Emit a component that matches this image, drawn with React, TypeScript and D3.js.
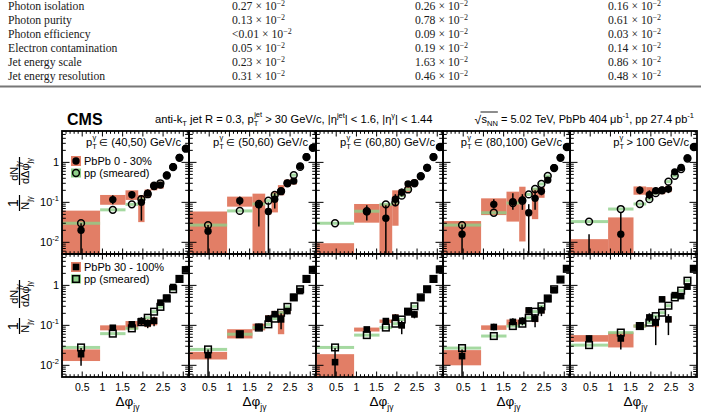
import React, { useEffect, useRef } from 'react';
import * as d3 from 'd3';

type Range = number[] | null;

// Δφ bin edges, in units of π
const binEdgesPi = [0, 0.3, 0.5, 0.6, 0.65, 0.7, 0.75, 0.8, 0.85, 0.9, 0.95, 1.0];

const ptRelations = ['∈', '∈', '∈', '∈', '>'];
const ptRanges = ['(40,50) GeV/c', '(50,60) GeV/c', '(60,80) GeV/c', '(80,100) GeV/c', '100 GeV/c'];

// PbPb 0-30%
const pbCentral = [
    [0.020, 0.117, 0.155, 0.10, 0.17, 0.25, 0.27, 0.48, 0.78, 1.33, 2.24],
    [0.019, 0.11, 0.087, 0.059, 0.12, 0.19, 0.30, 0.34, 0.81, 1.39, 2.33],
    [0.003, 0.058, 0.04, 0.12, 0.18, 0.29, 0.31, 0.45, 0.75, 1.39, 2.46],
    [0.016, 0.089, 0.104, 0.115, 0.055, 0.126, 0.19, 0.36, 0.74, 1.33, 2.46],
    [0.004, 0.016, 0.2, 0.155, 0.196, 0.2, 0.215, 0.58, 0.75, 1.29, 2.46],
];
const pbCentralSys: Range[][] = [
    [[0.001, 0.062], [0.087, 0.153], [0.115, 0.2], [0.032, 0.153], [0.13, 0.21], [0.2, 0.31], [0.22, 0.33], null, null, null, null],
    [[0.001, 0.059], [0.078, 0.139], [0.001, 0.165], [0.05, 0.07], [0.056, 0.18], [0.15, 0.27], [0.25, 0.37], [0.28, 0.4], null, null, null],
    [[0.001, 0.0095], [0.031, 0.091], [0.001, 0.091], [0.026, 0.2], [0.14, 0.21], [0.18, 0.34], [0.25, 0.37], [0.42, 0.48], null, null, null],
    [[0.001, 0.034], [0.048, 0.126], [0.033, 0.185], [0.0105, 0.246], [0.045, 0.065], [0.038, 0.224], [0.13, 0.24], [0.32, 0.42], null, null, null],
    [[0.001, 0.012], [0.001, 0.042], [0.155, 0.25], [0.13, 0.24], [0.16, 0.23], [0.16, 0.24], [0.18, 0.26], [0.5, 0.65], null, null, null],
];
const pbCentralStat: Range[][] = [
    [[0.001, 0.03], [0.09, 0.15], [0.125, 0.19], [0.035, 0.15], [0.14, 0.21], [0.22, 0.29], [0.23, 0.31], null, null, null, null],
    [[0.001, 0.027], [0.085, 0.14], [0.025, 0.11], [0.001, 0.1], [0.07, 0.17], [0.16, 0.23], [0.26, 0.34], [0.3, 0.38], null, null, null],
    [null, [0.035, 0.085], [0.001, 0.085], [0.08, 0.16], [0.14, 0.22], [0.24, 0.34], [0.26, 0.36], null, null, null, null],
    [[0.001, 0.028], [0.07, 0.12], [0.065, 0.17], [0.065, 0.16], [0.001, 0.09], [0.065, 0.2], [0.15, 0.24], [0.32, 0.4], null, null, null],
    [[0.001, 0.016], [0.001, 0.056], [0.16, 0.25], [0.12, 0.2], [0.16, 0.24], [0.17, 0.24], [0.17, 0.27], [0.5, 0.65], null, null, null],
];
const ppCentral = [
    [0.030, 0.065, 0.089, 0.12, 0.16, 0.26, 0.30, 0.47, 0.76, 1.3, 2.2],
    [0.027, 0.061, 0.091, 0.11, 0.153, 0.19, 0.30, 0.48, 0.77, 1.35, 2.3],
    [0.030, 0.060, 0.089, 0.10, 0.147, 0.21, 0.30, 0.45, 0.73, 1.35, 2.4],
    [0.027, 0.055, 0.096, 0.11, 0.158, 0.216, 0.288, 0.456, 0.72, 1.3, 2.4],
    [0.033, 0.068, 0.091, 0.12, 0.17, 0.2, 0.33, 0.46, 0.68, 1.25, 2.4],
];

// PbPb 30-100%
const pbPeriph = [
    [0.019, 0.087, 0.106, 0.128, 0.112, 0.13, 0.37, 0.49, 0.91, 1.47, 2.5],
    [0.018, 0.06, 0.091, 0.147, 0.19, 0.141, 0.228, 0.51, 0.72, 1.47, 2.5],
    [0.012, 0.079, 0.128, 0.155, 0.1, 0.22, 0.188, 0.49, 0.8, 1.47, 2.6],
    [0.017, 0.091, 0.122, 0.13, 0.237, 0.147, 0.237, 0.46, 0.76, 1.41, 2.66],
    [0.047, 0.047, 0.096, 0.158, 0.117, 0.447, 0.141, 0.57, 0.54, 0.93, 2.66],
];
const pbPeriphSys: Range[][] = [
    [[0.0128, 0.025], [0.075, 0.1], [0.08, 0.128], [0.1, 0.15], [0.09, 0.14], [0.1, 0.16], [0.32, 0.42], null, null, null, null],
    [[0.014, 0.0217], [0.047, 0.08], [0.075, 0.11], [0.12, 0.18], [0.16, 0.23], [0.06, 0.228], [0.2, 0.26], null, null, null, null],
    [[0.001, 0.019], [0.07, 0.088], [0.115, 0.14], [0.13, 0.19], [0.085, 0.12], [0.19, 0.26], [0.16, 0.22], null, null, null, null],
    [[0.01, 0.024], [0.077, 0.1], [0.1, 0.14], [0.11, 0.15], [0.2, 0.27], [0.12, 0.17], [0.2, 0.27], null, null, null, null],
    [[0.039, 0.057], [0.028, 0.067], [0.088, 0.105], [0.14, 0.18], [0.09, 0.14], [0.4, 0.5], [0.12, 0.16], null, null, null, null],
];
const pbPeriphStat: Range[][] = [
    [[0.0097, 0.027], [0.075, 0.1], [0.09, 0.125], [0.1, 0.16], [0.085, 0.14], [0.095, 0.165], [0.32, 0.42], null, null, null, null],
    [[0.001, 0.025], [0.05, 0.072], [0.075, 0.11], [0.12, 0.18], [0.16, 0.23], [0.08, 0.2], [0.19, 0.27], null, null, null, null],
    [[0.001, 0.027], [0.068, 0.09], [0.11, 0.15], [0.13, 0.19], [0.06, 0.13], [0.19, 0.26], [0.15, 0.23], null, null, null, null],
    [[0.004, 0.025], [0.075, 0.11], [0.1, 0.15], [0.1, 0.16], [0.2, 0.28], [0.09, 0.19], [0.17, 0.3], null, null, null, null],
    [[0.04, 0.055], [0.025, 0.06], [0.08, 0.115], [0.12, 0.2], [0.032, 0.17], [0.4, 0.5], [0.057, 0.19], [0.5, 0.65], [0.48, 0.6], null, null],
];
const ppPeriph = [
    [0.028, 0.062, 0.084, 0.12, 0.155, 0.22, 0.29, 0.47, 0.8, 1.45, 2.4],
    [0.025, 0.06, 0.088, 0.106, 0.147, 0.207, 0.29, 0.5, 0.8, 1.45, 2.45],
    [0.028, 0.057, 0.088, 0.11, 0.14, 0.22, 0.30, 0.5, 0.8, 1.45, 2.5],
    [0.027, 0.054, 0.096, 0.11, 0.155, 0.22, 0.3, 0.47, 0.8, 1.4, 2.6],
    [0.032, 0.066, 0.096, 0.117, 0.17, 0.207, 0.31, 0.5, 0.74, 1.31, 2.6],
];

// relative size of the pp (smeared) systematic band
const ppSysRel = 0.09;

// systematic uncertainty table
const tableLabels = ['Photon isolation', 'Photon purity', 'Photon efficiency', 'Electron contamination', 'Jet energy scale', 'Jet energy resolution'];
const tableCol1 = ['0.27', '0.13', '<0.01', '0.05', '0.23', '0.31'];
const tableCol2 = ['0.26', '0.78', '0.09', '0.19', '1.63', '0.46'];
const tableCol3 = ['0.16', '0.61', '0.03', '0.14', '0.86', '0.48'];

const App: React.FC = () => {
    const svgRef = useRef<SVGSVGElement | null>(null);

    useEffect(() => {
        if (!svgRef.current) return;
        const svg = d3.select(svgRef.current);
        svg.selectAll('*').remove();

        const sans = "'Liberation Sans', Arial, sans-serif";
        const serif = "'Liberation Serif', 'Times New Roman', serif";
        const red = '#e27e66';
        const green = '#8fd08a';

        // table on top
        const table = svg.append('g').attr('font-family', serif).attr('font-size', 11.7).attr('fill', '#1a1a1a');
        const colX = [232, 415, 608];
        tableLabels.forEach((lab, i) => {
            const ty = 10 + i * 14;
            table.append('text').attr('x', 8).attr('y', ty).text(lab);
            [tableCol1, tableCol2, tableCol3].forEach((col, j) => {
                const t = table.append('text').attr('x', colX[j]).attr('y', ty);
                t.append('tspan').text(`${col[i]} × 10`);
                t.append('tspan').attr('dy', -4.5).attr('font-size', 8).text('−2');
            });
        });
        svg.append('line').attr('x1', 0).attr('x2', 701).attr('y1', 86.5).attr('y2', 86.5)
            .attr('stroke', '#777').attr('stroke-width', 2);

        const panelW = 127;
        const panelH = 123;
        const left0 = 62;
        const edges = binEdgesPi.map(e => e * Math.PI);
        const centers = d3.pairs(edges).map(([a, b]) => (a + b) / 2);

        const rows = [
            { top: 131, pb: pbCentral, sys: pbCentralSys, stat: pbCentralStat, pp: ppCentral, square: false, legend: 'PbPb 0 - 30%' },
            { top: 254, pb: pbPeriph, sys: pbPeriphSys, stat: pbPeriphStat, pp: ppPeriph, square: true, legend: 'PbPb 30 - 100%' },
        ];

        const drawMarker = (g: any, cx: number, cy: number, square: boolean, filled: boolean) => {
            if (square) {
                const s = 6.6;
                g.append('rect').attr('x', cx - s / 2).attr('y', cy - s / 2).attr('width', s).attr('height', s)
                    .attr('fill', filled ? 'black' : 'none').attr('stroke', 'black').attr('stroke-width', filled ? 0 : 1.5);
            } else {
                g.append('circle').attr('cx', cx).attr('cy', cy).attr('r', filled ? 3.7 : 3.4)
                    .attr('fill', filled ? 'black' : 'none').attr('stroke', 'black').attr('stroke-width', filled ? 0 : 1.5);
            }
        };

        rows.forEach((row, r) => {
            const y = d3.scaleLog().domain([0.0051, 6.1]).range([row.top + panelH, row.top]);
            ptRanges.forEach((ptRange, p) => {
                const left = left0 + p * panelW;
                const x = d3.scaleLinear().domain([0, Math.PI]).range([left, left + panelW]);
                const clipId = `clip-${r}-${p}`;
                svg.append('clipPath').attr('id', clipId).append('rect')
                    .attr('x', left).attr('y', row.top).attr('width', panelW).attr('height', panelH);
                const g = svg.append('g').attr('clip-path', `url(#${clipId})`);

                // PbPb systematic boxes
                row.sys[p].forEach((s, i) => {
                    if (!s) return;
                    g.append('rect').attr('x', x(edges[i])).attr('width', x(edges[i + 1]) - x(edges[i]))
                        .attr('y', y(s[1])).attr('height', y(s[0]) - y(s[1])).attr('fill', red);
                });
                // pp systematic bands
                row.pp[p].forEach((v, i) => {
                    g.append('rect').attr('x', x(edges[i])).attr('width', x(edges[i + 1]) - x(edges[i]))
                        .attr('y', y(v * (1 + ppSysRel))).attr('height', y(v / (1 + ppSysRel)) - y(v * (1 + ppSysRel)))
                        .attr('fill', green).attr('opacity', 0.8);
                });
                // statistical error bars
                row.stat[p].forEach((s, i) => {
                    if (!s) return;
                    g.append('line').attr('x1', x(centers[i])).attr('x2', x(centers[i]))
                        .attr('y1', y(s[0])).attr('y2', y(s[1])).attr('stroke', 'black').attr('stroke-width', 1.5);
                });
                row.pb[p].forEach((v, i) => drawMarker(g, x(centers[i]), y(v), row.square, true));
                row.pp[p].forEach((v, i) => drawMarker(g, x(centers[i]), y(v), row.square, false));

                // frame and ticks
                const ax = svg.append('g').attr('stroke', 'black').attr('stroke-width', 1);
                d3.range(1, 32).forEach(k => {
                    const tx = x(k / 10);
                    const len = k % 5 === 0 ? 5.5 : 2.8;
                    ax.append('line').attr('x1', tx).attr('x2', tx).attr('y1', row.top + panelH).attr('y2', row.top + panelH - len);
                    ax.append('line').attr('x1', tx).attr('x2', tx).attr('y1', row.top).attr('y2', row.top + len);
                });
                [-3, -2, -1, 0].forEach(e => {
                    d3.range(1, 10).forEach(k => {
                        const v = k * Math.pow(10, e);
                        if (v < 0.0051 || v > 6.1) return;
                        const ty = y(v);
                        const len = k === 1 ? 7.5 : 3.8;
                        ax.append('line').attr('x1', left).attr('x2', left + len).attr('y1', ty).attr('y2', ty);
                        ax.append('line').attr('x1', left + panelW).attr('x2', left + panelW - len).attr('y1', ty).attr('y2', ty);
                    });
                });
                svg.append('rect').attr('x', left).attr('y', row.top).attr('width', panelW).attr('height', panelH)
                    .attr('fill', 'none').attr('stroke', 'black').attr('stroke-width', 1.8);

                // pT bin label
                if (r === 0) {
                    const t = svg.append('text').attr('x', left + panelW - 8).attr('y', row.top + 15)
                        .attr('text-anchor', 'end').attr('font-family', sans).attr('font-size', 11.2);
                    t.append('tspan').text('p');
                    t.append('tspan').attr('dy', 3).attr('font-size', 7.5).text('T');
                    t.append('tspan').attr('dx', -4.5).attr('dy', -9).attr('font-size', 7.5).text('γ');
                    t.append('tspan').attr('dy', 6).text(' ');
                    t.append('tspan').attr('font-size', ptRelations[p] === '∈' ? 9.5 : 11.2).text(ptRelations[p]);
                    t.append('tspan').text(` ${ptRange}`);
                }

                // x tick labels and title on the lower row
                if (r === 1) {
                    [0.5, 1, 1.5, 2, 2.5, 3].forEach(v => {
                        svg.append('text').attr('x', x(v)).attr('y', 391).attr('text-anchor', 'middle')
                            .attr('font-family', sans).attr('font-size', 10.5).text(String(v));
                    });
                    const xt = svg.append('text').attr('x', left + panelW / 2 + 2).attr('y', 406).attr('text-anchor', 'middle')
                        .attr('font-family', sans).attr('font-size', 13.5);
                    xt.append('tspan').text('Δφ');
                    xt.append('tspan').attr('dy', 4).attr('font-size', 8.5).text('jγ');
                }

                if (p === 0) {
                    // y tick labels
                    [0.01, 0.1, 1].forEach(v => {
                        const t = svg.append('text').attr('x', 59).attr('y', y(v) + 4).attr('text-anchor', 'end')
                            .attr('font-family', sans).attr('font-size', 11);
                        if (v === 1) {
                            t.text('1');
                        } else {
                            t.append('tspan').text('10');
                            t.append('tspan').attr('dy', -5).attr('font-size', 7.5).text(v === 0.1 ? '-1' : '-2');
                        }
                    });

                    // legend
                    const lx = left + 14;
                    const ly1 = row.top + (row.square ? 13 : 30);
                    const ly2 = ly1 + 12;
                    const lg = svg.append('g');
                    lg.append('rect').attr('x', lx - 5).attr('y', ly1 - 5).attr('width', 10).attr('height', 10).attr('fill', red);
                    drawMarker(lg, lx, ly1, row.square, true);
                    lg.append('rect').attr('x', lx - 5).attr('y', ly2 - 4.5).attr('width', 10).attr('height', 9).attr('fill', green);
                    drawMarker(lg, lx, ly2, row.square, false);
                    lg.append('text').attr('x', lx + 8).attr('y', ly1 + 4).attr('font-family', sans).attr('font-size', 11).text(row.legend);
                    lg.append('text').attr('x', lx + 8).attr('y', ly2 + 4).attr('font-family', sans).attr('font-size', 11).text('pp (smeared)');

                    // y axis title: 1/N dN/dΔφ
                    const yl = svg.append('g').attr('transform', `translate(19.5,${row.top + 55}) rotate(-90)`)
                        .attr('font-family', sans);
                    const frac = (cu: number, num: (t: any) => void, den: (t: any) => void, w: number) => {
                        yl.append('line').attr('x1', cu - w / 2).attr('x2', cu + w / 2).attr('y1', 0).attr('y2', 0)
                            .attr('stroke', 'black').attr('stroke-width', 1.2);
                        num(yl.append('text').attr('x', cu).attr('y', -2).attr('text-anchor', 'middle'));
                        den(yl.append('text').attr('x', cu).attr('y', 9.5).attr('text-anchor', 'middle'));
                    };
                    frac(-17, t => t.attr('font-size', 14).text('1'), t => {
                        t.attr('font-size', 11);
                        t.append('tspan').text('N');
                        t.append('tspan').attr('dy', 3).attr('font-size', 7.5).text('jγ');
                    }, 16);
                    frac(15, t => {
                        t.attr('font-size', 11);
                        t.append('tspan').text('dN');
                        t.append('tspan').attr('dy', 3).attr('font-size', 7.5).text('jγ');
                    }, t => {
                        t.attr('font-size', 11);
                        t.append('tspan').text('dΔφ');
                        t.append('tspan').attr('dy', 3).attr('font-size', 7.5).text('jγ');
                    }, 28);
                }
            });
        });

        // header
        svg.append('text').attr('x', 67).attr('y', 125).attr('font-family', sans).attr('font-weight', 'bold')
            .attr('font-size', 16).text('CMS');
        const h1 = svg.append('text').attr('x', 155).attr('y', 123).attr('font-family', sans).attr('font-size', 11.2);
        h1.append('tspan').text('anti-k');
        h1.append('tspan').attr('dy', 3).attr('font-size', 7.5).text('T');
        h1.append('tspan').attr('dy', -3).text(' jet R = 0.3, p');
        h1.append('tspan').attr('dy', 3).attr('font-size', 7.5).text('T');
        h1.append('tspan').attr('dx', -4.2).attr('dy', -9).attr('font-size', 7.5).text('jet');
        h1.append('tspan').attr('dy', 6).text(' > 30 GeV/c, |η');
        h1.append('tspan').attr('dy', -5).attr('font-size', 7.5).text('jet');
        h1.append('tspan').attr('dy', 5).text('| < 1.6, |η');
        h1.append('tspan').attr('dy', -5).attr('font-size', 7.5).text('γ');
        h1.append('tspan').attr('dy', 5).text('| < 1.44');

        const h2 = svg.append('text').attr('y', 123).attr('font-family', sans).attr('font-size', 11);
        const sq = h2.append('tspan');
        sq.append('tspan').text('s');
        sq.append('tspan').attr('dy', 3).attr('font-size', 7.5).text('NN');
        h2.append('tspan').attr('dy', -3).text(' = 5.02 TeV, PbPb 404 μb');
        h2.append('tspan').attr('dy', -5).attr('font-size', 7.5).text('-1');
        h2.append('tspan').attr('dy', 5).text(', pp 27.4 pb');
        h2.append('tspan').attr('dy', -5).attr('font-size', 7.5).text('-1');
        const h2node = h2.node() as SVGTextElement;
        const h2len = h2node.getComputedTextLength();
        const h2x = 694 - h2len;
        h2.attr('x', h2x);
        const sLen = h2node.getSubStringLength(0, 3);
        svg.append('text').attr('x', h2x - 0.5).attr('y', 124).attr('text-anchor', 'end').attr('font-family', sans)
            .attr('font-size', 12).text('√');
        svg.append('line').attr('x1', h2x - 1).attr('x2', h2x + sLen).attr('y1', 112).attr('y2', 112)
            .attr('stroke', 'black').attr('stroke-width', 0.9);
    }, []);

    return (
        <svg ref={svgRef} width={701} height={414} style={{ position: 'absolute', left: 0, top: 0, background: 'white' }} />
    );
};

export default App;
